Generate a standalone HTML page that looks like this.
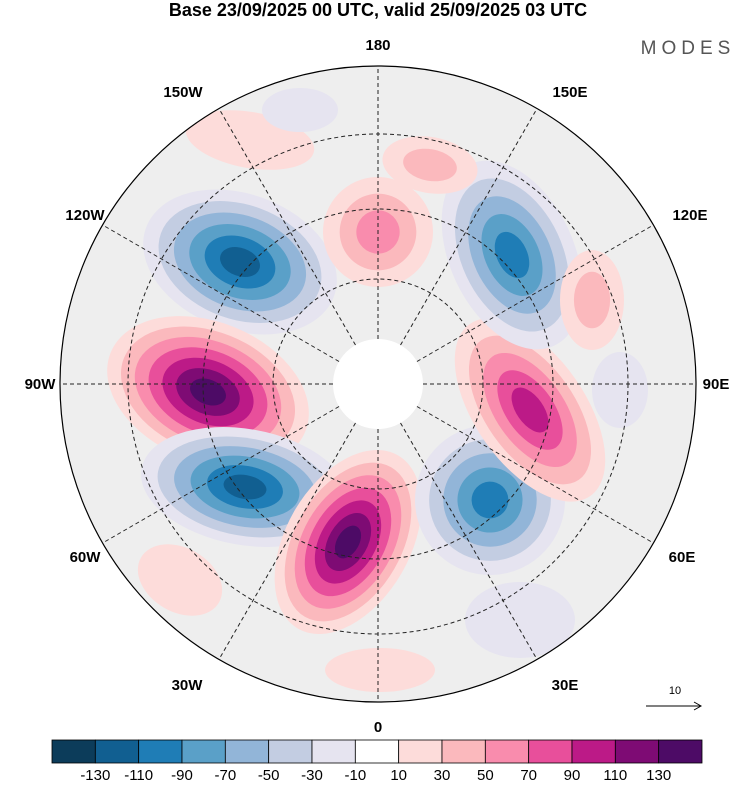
<!DOCTYPE html>
<html><head><meta charset="utf-8"><style>
body{margin:0;background:#fff;width:750px;height:783px;overflow:hidden;font-family:"Liberation Sans",sans-serif}
svg text{font-family:"Liberation Sans",sans-serif}
</style></head><body>
<svg id="s" width="750" height="783" viewBox="0 0 750 783">
<defs><clipPath id="cp"><circle cx="378" cy="384" r="318"/></clipPath></defs>
<text x="378" y="16" text-anchor="middle" font-size="18" font-weight="bold">Base 23/09/2025 00 UTC, valid 25/09/2025 03 UTC</text>
<text x="688" y="54" text-anchor="middle" font-size="19" fill="#555" letter-spacing="5">MODES</text>
<circle cx="378" cy="384" r="318" fill="#eeeeee"/>
<g id="blobs" clip-path="url(#cp)"></g>
<circle cx="378" cy="384" r="45" fill="#fff"/>
<g id="grid" stroke="#222" stroke-width="1" stroke-dasharray="4,3" fill="none"></g>
<circle cx="378" cy="384" r="318" fill="none" stroke="#000" stroke-width="1.2"/>
<g id="lbl" font-size="15" font-weight="bold" text-anchor="middle"></g>
<text x="675" y="694" text-anchor="middle" font-size="11">10</text>
<line x1="646" y1="706" x2="700" y2="706" stroke="#000"/>
<path d="M694,702 L701,706 L694,710" fill="none" stroke="#000"/>
<g id="cbar"></g>
</svg>
<script>
const levels=[-130,-110,-90,-70,-50,-30,-10,10,30,50,70,90,110,130];
const colors=["#0c3c5a","#115f91","#1f7db6","#5aa0c8","#92b5d8","#c3cde2","#e6e4f0","#ffffff","#fddcda","#fbb9bd","#f98cad","#e84f9b","#bc1a87","#7e0b74","#4d0b66"];
// anomaly centres: x, y, peak value, rx, ry, rotation
const blobX=[240,208,245,348,490,530,512,378,592,250,430,620,300,520,180,380];
const blobY=[262,392,487,542,500,410,255,232,300,140,165,390,110,620,580,670];
const blobV=[-115,135,-125,135,-95,100,-95,55,35,25,30,-25,-20,-20,20,15];
const blobRX=[100,105,105,62,75,55,62,55,32,65,48,28,38,55,45,55];
const blobRY=[68,70,58,100,75,105,100,55,50,28,28,38,22,38,32,22];
const blobR=[20,22,10,30,20,-35,-25,10,0,10,10,0,0,0,30,0];
const NS="http://www.w3.org/2000/svg";
const cx=378,cy=384,R=318;
function mk(t,a,p){const e=document.createElementNS(NS,t);for(const k in a)e.setAttribute(k,a[k]);p.appendChild(e);return e;}
function colorOf(v){let i=0;while(i<levels.length&&v>levels[i])i++;return colors[i];}
const bg=document.getElementById('blobs');
for(let b=0;b<blobX.length;b++){
  const v=blobV[b],sgn=Math.sign(v),n=Math.max(1,Math.floor((Math.abs(v)-10)/20)+1);
  for(let k=0;k<n;k++){
    const lv=sgn*(10+20*k)+sgn*1, f=1-k/(n+0.3);
    const e=mk('ellipse',{cx:blobX[b],cy:blobY[b],rx:blobRX[b]*f,ry:blobRY[b]*f,fill:colorOf(lv),transform:`rotate(${blobR[b]} ${blobX[b]} ${blobY[b]})`},bg);
    
    
  }
}
const g=document.getElementById('grid');
for(let a=0;a<360;a+=30){const r=a*Math.PI/180;
  const l=mk('line',{x1:cx+45*Math.cos(r),y1:cy+45*Math.sin(r),x2:cx+R*Math.cos(r),y2:cy+R*Math.sin(r)},g);
  }
[105,175,250].forEach(r=>{const c=mk('circle',{cx:cx,cy:cy,r:r},g);
  });
const L=[["180",378,50],["0",378,732],["90W",40,389],["90E",716,389],["150W",183,97],["150E",570,97],["120W",85,220],["120E",690,220],["60W",85,562],["60E",682,562],["30W",187,690],["30E",565,690]];
const lg=document.getElementById('lbl');
L.forEach(d=>{const t=mk('text',{x:d[1],y:d[2]},lg);t.textContent=d[0];
  });
const cb=document.getElementById('cbar'),x0=52,w=650/colors.length;
colors.forEach((c,i)=>{const r=mk('rect',{x:x0+i*w,y:740,width:w,height:23,fill:c,stroke:'#000','stroke-width':0.8},cb);
  });
levels.forEach((v,i)=>{const t=mk('text',{x:x0+(i+1)*w,y:780,'text-anchor':'middle','font-size':15},cb);t.textContent=v;
  });
</script>
</body></html>
